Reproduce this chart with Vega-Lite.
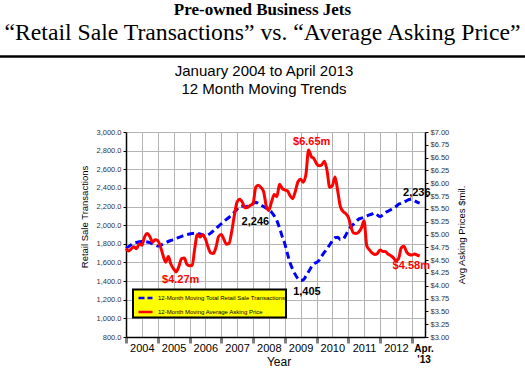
{
  "$schema": "https://vega.github.io/schema/vega-lite/v6.json",
  "width": 299,
  "height": 205,
  "autosize": {"type": "none"},
  "padding": {"left": 126, "top": 132, "right": 100, "bottom": 32},
  "background": "white",
  "title": {
    "text": "Pre-owned Business Jets",
    "subtitle": "“Retail Sale Transactions” vs. “Average Asking Price”",
    "font": "Liberation Serif", "fontSize": 17, "fontWeight": "bold", "color": "black",
    "subtitleFont": "Liberation Serif", "subtitleFontSize": 23.7, "subtitleFontWeight": "normal", "subtitleColor": "black",
    "subtitlePadding": 2, "offset": 10, "anchor": "middle", "frame": "bounds"
  },
  "config": {
    "view": {"stroke": null},
    "axis": {"labelFont": "Liberation Sans", "titleFont": "Liberation Sans"},
    "legend": {"strokeWidth": 2, "labelFont": "Liberation Sans"},
    "text": {"font": "Liberation Sans"}
  },
  "datasets": {
    "series": [
      {"d":"2004-01-01","t":1752,"p":4.73},{"d":"2004-02-01","t":1770,"p":4.68},{"d":"2004-03-01","t":1790,"p":4.72},{"d":"2004-04-01","t":1808,"p":4.76},
      {"d":"2004-05-01","t":1815,"p":4.72},{"d":"2004-06-01","t":1822,"p":4.82},{"d":"2004-07-01","t":1826,"p":4.79},{"d":"2004-08-01","t":1825,"p":4.95},
      {"d":"2004-09-01","t":1820,"p":5.02},{"d":"2004-10-01","t":1812,"p":4.96},{"d":"2004-11-01","t":1800,"p":4.85},{"d":"2004-12-01","t":1786,"p":4.90},
      {"d":"2005-01-01","t":1776,"p":4.88},{"d":"2005-02-01","t":1783,"p":4.76},{"d":"2005-03-01","t":1798,"p":4.60},{"d":"2005-04-01","t":1813,"p":4.46},
      {"d":"2005-05-01","t":1825,"p":4.57},{"d":"2005-06-01","t":1836,"p":4.42},{"d":"2005-07-01","t":1846,"p":4.33},{"d":"2005-08-01","t":1858,"p":4.27},
      {"d":"2005-09-01","t":1870,"p":4.38},{"d":"2005-10-01","t":1880,"p":4.53},{"d":"2005-11-01","t":1890,"p":4.54},{"d":"2005-12-01","t":1898,"p":4.42},
      {"d":"2006-01-01","t":1905,"p":4.39},{"d":"2006-02-01","t":1910,"p":4.40},{"d":"2006-03-01","t":1913,"p":4.72},{"d":"2006-04-01","t":1912,"p":5.00},
      {"d":"2006-05-01","t":1905,"p":4.95},{"d":"2006-06-01","t":1893,"p":5.00},{"d":"2006-07-01","t":1882,"p":4.92},{"d":"2006-08-01","t":1895,"p":4.76},
      {"d":"2006-09-01","t":1915,"p":4.64},{"d":"2006-10-01","t":1938,"p":4.63},{"d":"2006-11-01","t":1962,"p":4.75},{"d":"2006-12-01","t":1990,"p":4.96},
      {"d":"2007-01-01","t":2015,"p":5.00},{"d":"2007-02-01","t":2040,"p":4.90},{"d":"2007-03-01","t":2062,"p":4.81},{"d":"2007-04-01","t":2085,"p":4.83},
      {"d":"2007-05-01","t":2110,"p":5.06},{"d":"2007-06-01","t":2140,"p":5.38},{"d":"2007-07-01","t":2172,"p":5.63},{"d":"2007-08-01","t":2200,"p":5.69},
      {"d":"2007-09-01","t":2205,"p":5.63},{"d":"2007-10-01","t":2198,"p":5.52},{"d":"2007-11-01","t":2205,"p":5.53},{"d":"2007-12-01","t":2218,"p":5.57},
      {"d":"2008-01-01","t":2232,"p":5.60},{"d":"2008-02-01","t":2246,"p":5.92},{"d":"2008-03-01","t":2232,"p":5.96},{"d":"2008-04-01","t":2215,"p":5.92},
      {"d":"2008-05-01","t":2200,"p":5.84},{"d":"2008-06-01","t":2182,"p":5.56},{"d":"2008-07-01","t":2165,"p":5.47},{"d":"2008-08-01","t":2140,"p":5.64},
      {"d":"2008-09-01","t":2100,"p":5.78},{"d":"2008-10-01","t":2050,"p":5.74},{"d":"2008-11-01","t":1970,"p":5.98},{"d":"2008-12-01","t":1880,"p":5.90},
      {"d":"2009-01-01","t":1800,"p":5.87},{"d":"2009-02-01","t":1690,"p":5.85},{"d":"2009-03-01","t":1600,"p":5.76},{"d":"2009-04-01","t":1525,"p":5.70},
      {"d":"2009-05-01","t":1470,"p":5.84},{"d":"2009-06-01","t":1425,"p":6.03},{"d":"2009-07-01","t":1405,"p":6.08},{"d":"2009-08-01","t":1412,"p":6.02},
      {"d":"2009-09-01","t":1455,"p":6.18},{"d":"2009-10-01","t":1500,"p":6.65},{"d":"2009-11-01","t":1550,"p":6.52},{"d":"2009-12-01","t":1585,"p":6.48},
      {"d":"2010-01-01","t":1600,"p":6.38},{"d":"2010-02-01","t":1625,"p":6.34},{"d":"2010-03-01","t":1668,"p":6.36},{"d":"2010-04-01","t":1710,"p":6.43},
      {"d":"2010-05-01","t":1745,"p":6.25},{"d":"2010-06-01","t":1790,"p":5.92},{"d":"2010-07-01","t":1830,"p":5.95},{"d":"2010-08-01","t":1865,"p":6.12},
      {"d":"2010-09-01","t":1870,"p":5.85},{"d":"2010-10-01","t":1845,"p":5.55},{"d":"2010-11-01","t":1850,"p":5.45},{"d":"2010-12-01","t":1890,"p":5.41},
      {"d":"2011-01-01","t":1945,"p":5.34},{"d":"2011-02-01","t":1985,"p":5.15},{"d":"2011-03-01","t":2010,"p":5.03},{"d":"2011-04-01","t":2040,"p":5.02},
      {"d":"2011-05-01","t":2065,"p":5.05},{"d":"2011-06-01","t":2075,"p":5.13},{"d":"2011-07-01","t":2090,"p":5.27},{"d":"2011-08-01","t":2100,"p":4.78},
      {"d":"2011-09-01","t":2110,"p":4.70},{"d":"2011-10-01","t":2120,"p":4.64},{"d":"2011-11-01","t":2130,"p":4.61},{"d":"2011-12-01","t":2110,"p":4.63},
      {"d":"2012-01-01","t":2092,"p":4.70},{"d":"2012-02-01","t":2110,"p":4.67},{"d":"2012-03-01","t":2135,"p":4.67},{"d":"2012-04-01","t":2150,"p":4.62},
      {"d":"2012-05-01","t":2165,"p":4.59},{"d":"2012-06-01","t":2180,"p":4.55},{"d":"2012-07-01","t":2200,"p":4.49},{"d":"2012-08-01","t":2225,"p":4.53},
      {"d":"2012-09-01","t":2235,"p":4.74},{"d":"2012-10-01","t":2250,"p":4.77},{"d":"2012-11-01","t":2262,"p":4.66},{"d":"2012-12-01","t":2275,"p":4.61},
      {"d":"2013-01-01","t":2278,"p":4.60},{"d":"2013-02-01","t":2262,"p":4.62},{"d":"2013-03-01","t":2248,"p":4.60},{"d":"2013-04-01","t":2236,"p":4.58}
    ],
    "labelsT": [
      {"d":"2008-01-28","t":2034,"label":"2,246"},
      {"d":"2009-09-12","t":1286,"label":"1,405"},
      {"d":"2013-02-27","t":2345,"label":"2,236"}
    ],
    "labelsP": [
      {"d":"2009-11-06","p":6.805,"label":"$6.65m"},
      {"d":"2005-09-21","p":4.11,"label":"$4.27m"},
      {"d":"2012-12-25","p":4.385,"label":"$4.58m"}
    ]
  },
  "layer": [
    {
      "data": {"name": "series"},
      "mark": {"type": "line", "strokeDash": [7, 4], "strokeWidth": 3, "interpolate": "monotone"},
      "encoding": {
        "x": {
          "field": "d", "type": "temporal",
          "scale": {"domain": [{"year": 2004, "month": 1, "date": 1}, {"year": 2013, "month": 6, "date": 1}]},
          "axis": {
            "values": [
              {"year": 2004, "month": 1, "date": 1}, {"year": 2004, "month": 7, "date": 1},
              {"year": 2005, "month": 1, "date": 1}, {"year": 2005, "month": 7, "date": 1},
              {"year": 2006, "month": 1, "date": 1}, {"year": 2006, "month": 7, "date": 1},
              {"year": 2007, "month": 1, "date": 1}, {"year": 2007, "month": 7, "date": 1},
              {"year": 2008, "month": 1, "date": 1}, {"year": 2008, "month": 7, "date": 1},
              {"year": 2009, "month": 1, "date": 1}, {"year": 2009, "month": 7, "date": 1},
              {"year": 2010, "month": 1, "date": 1}, {"year": 2010, "month": 7, "date": 1},
              {"year": 2011, "month": 1, "date": 1}, {"year": 2011, "month": 7, "date": 1},
              {"year": 2012, "month": 1, "date": 1}, {"year": 2012, "month": 7, "date": 1},
              {"year": 2013, "month": 1, "date": 1}, {"year": 2013, "month": 5, "date": 15}
            ],
            "labelExpr": "month(datum.value) == 6 ? timeFormat(datum.value, '%Y') : (month(datum.value) == 4 ? ['Apr.', \"'13\"] : '')",
            "labelFontSize": {"condition": {"test": "month(datum.value) == 4", "value": 10}, "value": 11},
            "labelFontWeight": {"condition": {"test": "month(datum.value) == 4", "value": "bold"}, "value": "normal"},
            "labelColor": "black",
            "labelBaseline": "middle",
            "labelPadding": 5,
            "labelLineHeight": 11,
            "labelOverlap": false,
            "labelFlush": false,
            "labelBound": false,
            "tickSize": 6,
            "tickWidth": 3,
            "tickColor": "#808080",
            "tickOpacity": {"condition": {"test": "month(datum.value) == 0", "value": 1}, "value": 0},
            "grid": true,
            "gridColor": "#B4B4B4",
            "gridWidth": 1,
            "gridOpacity": {"condition": {"test": "month(datum.value) == 4", "value": 0}, "value": 1},
            "domainColor": "black",
            "domainWidth": 1.5,
            "title": "Year",
            "titleFontSize": 12,
            "titleFontWeight": "normal",
            "titleColor": "black",
            "titleBaseline": "top",
            "titleX": 152.5,
            "titleY": 19
          }
        },
        "y": {
          "field": "t", "type": "quantitative",
          "scale": {"domain": [800, 3000], "nice": false, "zero": false},
          "axis": {
            "values": [800, 1000, 1200, 1400, 1600, 1800, 2000, 2200, 2400, 2600, 2800, 3000],
            "format": ",.1f",
            "labelFontSize": 7.5,
            "labelColor": "#333333",
            "labelPadding": 2,
            "labelOverlap": false,
            "tickSize": 3,
            "tickColor": "black",
            "domainColor": "black",
            "domainWidth": 1.5,
            "grid": true,
            "gridColor": "#B4B4B4",
            "gridWidth": 1,
            "title": "Retail Sale Transactions",
            "titleFontSize": 9.5,
            "titleFontWeight": "normal",
            "titleColor": "black",
            "titlePadding": 6,
            "titleY": 84.5
          }
        },
        "color": {
          "datum": "12-Month Moving Total Retail Sale Transactions",
          "scale": {
            "domain": ["12-Month Moving Total Retail Sale Transactions", "12-Month Moving Average Asking Price"],
            "range": ["#0000FF", "#FF0000"]
          },
          "legend": {
            "orient": "none",
            "direction": "vertical",
            "legendX": 7,
            "legendY": 157.5,
            "title": null,
            "symbolType": "stroke",
            "symbolSize": 196,
            "symbolStrokeWidth": 2.5,
            "symbolOffset": 4,
            "labelFontSize": 6,
            "labelColor": "black",
            "labelOffset": 4,
            "rowPadding": -2,
            "padding": 0,
            "fillColor": "#FFFF00",
            "strokeColor": "black",
            "encode": {
              "symbols": {
                "update": {
                  "strokeDash": {"signal": "datum.value == '12-Month Moving Total Retail Sale Transactions' ? [6, 3] : [1, 0]"}
                }
              }
            }
          }
        }
      }
    },
    {
      "data": {"name": "series"},
      "mark": {"type": "line", "strokeWidth": 3, "interpolate": "monotone"},
      "encoding": {
        "x": {
          "field": "d", "type": "temporal",
          "scale": {"domain": [{"year": 2004, "month": 1, "date": 1}, {"year": 2013, "month": 6, "date": 1}]},
          "axis": {
            "orient": "top",
            "labels": false,
            "ticks": false,
            "domain": false,
            "grid": false,
            "title": ["January 2004 to April 2013", "12 Month Moving Trends"],
            "titleFontSize": 15,
            "titleFontWeight": "normal",
            "titleColor": "black",
            "titleLineHeight": 18,
            "titlePadding": 36,
            "titleX": 137.5
          }
        },
        "y": {
          "field": "p", "type": "quantitative",
          "scale": {"domain": [3, 7], "nice": false, "zero": false},
          "axis": {
            "orient": "right",
            "values": [3, 3.25, 3.5, 3.75, 4, 4.25, 4.5, 4.75, 5, 5.25, 5.5, 5.75, 6, 6.25, 6.5, 6.75, 7],
            "format": "$.2f",
            "labelFontSize": 7.5,
            "labelColor": "#333333",
            "labelPadding": 2,
            "labelOverlap": false,
            "tickSize": 3,
            "tickColor": "black",
            "domainColor": "black",
            "domainWidth": 1.5,
            "grid": false,
            "title": "Avg Asking Prices $mil.",
            "titleAngle": 270,
            "titleBaseline": "top",
            "titleFontSize": 9.5,
            "titleFontWeight": "normal",
            "titleColor": "black",
            "titlePadding": 8
          }
        },
        "color": {"datum": "12-Month Moving Average Asking Price"}
      }
    },
    {
      "data": {"name": "labelsT"},
      "mark": {"type": "text", "fontWeight": "bold", "fontSize": 11, "color": "black"},
      "encoding": {
        "x": {"field": "d", "type": "temporal", "axis": null, "scale": {"domain": [{"year": 2004, "month": 1, "date": 1}, {"year": 2013, "month": 6, "date": 1}]}},
        "y": {"field": "t", "type": "quantitative", "axis": null, "scale": {"domain": [800, 3000], "nice": false, "zero": false}},
        "text": {"field": "label"}
      }
    },
    {
      "data": {"name": "labelsP"},
      "mark": {"type": "text", "fontWeight": "bold", "fontSize": 11, "color": "#FF0000"},
      "encoding": {
        "x": {"field": "d", "type": "temporal", "axis": null, "scale": {"domain": [{"year": 2004, "month": 1, "date": 1}, {"year": 2013, "month": 6, "date": 1}]}},
        "y": {"field": "p", "type": "quantitative", "axis": null, "scale": {"domain": [3, 7], "nice": false, "zero": false}},
        "text": {"field": "label"}
      }
    },
    {
      "data": {"values": [{}]},
      "mark": {"type": "rule", "color": "black", "strokeWidth": 2.5},
      "encoding": {
        "x": {"datum": {"year": 2000, "month": 1, "date": 12}, "type": "temporal", "axis": null, "scale": {"domain": [{"year": 2004, "month": 1, "date": 1}, {"year": 2013, "month": 6, "date": 1}]}},
        "x2": {"datum": {"year": 2016, "month": 7, "date": 25}},
        "y": {"datum": 3810, "type": "quantitative", "axis": null, "scale": {"domain": [800, 3000], "nice": false, "zero": false}}
      }
    }
  ],
  "resolve": {"scale": {"y": "independent"}, "axis": {"x": "independent"}}
}
